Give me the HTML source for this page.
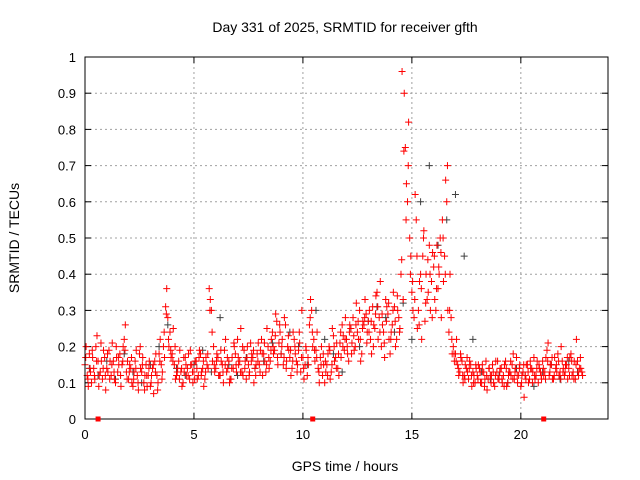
<!DOCTYPE html>
<html><head><meta charset="utf-8"><style>
html,body{margin:0;padding:0;background:#fff;}
svg{display:block;font-family:"Liberation Sans",sans-serif;}
</style></head><body>
<svg id="chart" width="640" height="480" viewBox="0 0 640 480">
<rect width="640" height="480" fill="#fff"/>
<text x="345" y="32" font-size="14" text-anchor="middle">Day 331 of 2025, SRMTID for receiver gfth</text>
<text x="345" y="471" font-size="14" text-anchor="middle">GPS time / hours</text>
<text x="0" y="0" font-size="14" text-anchor="middle" transform="translate(19,238) rotate(-90)">SRMTID / TECUs</text>
<g id="grid"></g>
<g id="ticks"></g>
<g id="gray"></g>
<g id="red"></g>
<rect x="85" y="57" width="523" height="362" fill="none" stroke="#000" stroke-width="1"/>
<g id="marks"></g>
</svg>
<script>
const xTicks=[0,5,10,15,20];
const yTicks=[0,0.1,0.2,0.3,0.4,0.5,0.6,0.7,0.8,0.9,1];
const yTickLabels=["0","0.1","0.2","0.3","0.4","0.5","0.6","0.7","0.8","0.9","1"];
const redA=[15,12,18,10,14,20,16,13,11,17,14,19,12,16,10,13,18,15,22,13,11,14,9,16,12,18,13,10,15,12,9,14,16,12,18,15,20,31,28,24,18,15,12,16,13,10,17,14,11,15,13,16,12,18,14,11,15,36,30,20,14,17,12,15,19,13,16,11,14,18,22,16,13,19,11,15,21,17,14,18,15,22,18,13,20,16,24,19,27,21,18,15,26,20,17,14,22,16,19,13,17,15,12,26,30,22,19,14,17,12,10,15,20,13,23,17,14,21,26,19,22,16,25,28,20,24,30,18,26,29,27,22,31,25,35,28,20,24,33,29,18,26,31,22,28,40,33,75,60,50,35,28,55,30,40,45,27,33,48,38,42,30,36,50,55,45,60,24,28,20,18,15,13,16,12,14,11,15,13,10,12,14,10,13,16,11,12,15,9,13,11,14,12,16,10,13,15,11,17,12,9,13,12,15,11,14,17,12,10,13,16,13,19,12,15,11,14,18,13,16,12,15,14,18,13,11,16,14,13];
const redB=[20,9,13,17,11,23,12,16,19,8,13,16,21,11,17,15,9,20,26,16,15,10,13,19,8,14,17,12,9,16,12,7,18,10,22,13,17,36,20,17,25,11,14,19,9,13,12,18,15,10,16,11,19,13,9,17,14,33,16,13,18,12,16,10,22,14,11,17,20,13,15,25,12,16,20,13,18,10,15,21,19,12,16,25,14,22,18,29,15,24,22,28,16,19,12,24,18,15,21,30,11,19,15,33,20,16,24,10,20,15,13,18,11,25,16,21,12,17,23,28,18,26,21,19,32,22,16,27,33,24,30,18,26,34,22,38,26,17,31,22,24,35,20,30,25,96,90,65,82,45,30,62,25,38,22,52,40,35,30,46,33,48,40,28,38,66,30,40,18,16,22,12,17,10,15,13,16,9,12,14,15,10,13,11,8,14,12,10,16,11,14,10,15,9,13,12,18,14,10,15,12,6,15,10,14,13,11,16,14,11,12,17,21,15,11,17,13,12,20,14,15,11,17,12,16,22,12,14];
const redC=[17,11,14,19,12,16,9,21,14,12,18,11,15,13,20,17,12,16,19,11,13,17,11,14,10,20,15,8,12,14,10,15,13,8,16,11,24,29,22,19,16,20,13,11,14,17,15,12,19,13,11,14,17,12,16,13,18,30,24,15,16,12,19,13,15,17,10,14,21,15,17,13,20,14,17,12,16,19,12,16,13,18,21,15,17,19,20,23,17,26,20,17,14,23,19,16,20,13,24,17,14,20,17,28,24,19,17,13,15,18,16,12,19,15,20,14,18,24,20,22,20,24,18,23,26,27,22,25,28,21,24,27,20,29,31,24,29,21,27,32,22,30,27,34,24,44,74,55,70,40,38,33,45,26,36,50,32,44,40,28,45,36,42,46,50,40,70,30,22,18,16,14,18,12,11,17,14,12,10,15,11,13,15,9,12,14,10,13,12,16,13,11,9,14,12,16,11,13,12,14,10,15,11,13,16,10,12,14,15,12,14,11,16,13,17,12,15,16,11,13,13,17,12,16,11,15,13,17,12];
const grayV=[14,12,16,11,18,13,10,15,20,26,14,12,15,19,13,28,15,12,17,14,16,21,18,24,20,15,30,22,18,13,25,20,27,31,28,24,32,22,60,70,48,55,62,45,22,13,11,12,10,14,12,9,13,15,11,16,13];
const gapHours=[0.6,10.45,21.05];
const X0=85,X1=608,Y0=419,Y1=57,XMAX=24;
const sx=t=>X0+(X1-X0)*t/XMAX, sy=v=>Y0-(Y0-Y1)*v;
const NS="http://www.w3.org/2000/svg";
const mk=(tag,attrs,parent)=>{const e=document.createElementNS(NS,tag);for(const k in attrs)e.setAttribute(k,attrs[k]);parent.appendChild(e);return e;};
const grid=document.getElementById('grid'),ticks=document.getElementById('ticks');
xTicks.forEach(t=>{const x=sx(t);
 if(t>0){const g=mk('line',{x1:x,x2:x,y1:Y0,y2:Y1,stroke:'#a0a0a0','stroke-dasharray':'2,3','stroke-width':1},grid);
 }
 mk('line',{x1:x,x2:x,y1:Y0,y2:Y0-6,stroke:'#000'},ticks);mk('line',{x1:x,x2:x,y1:Y1,y2:Y1+6,stroke:'#000'},ticks);
 const l=mk('text',{x:x,y:Y0+20,'font-size':13,'text-anchor':'middle'},ticks);l.textContent=t;
 });
yTicks.forEach((v,i)=>{const y=sy(v);
 if(v>0&&v<1){const g=mk('line',{x1:X0,x2:X1,y1:y,y2:y,stroke:'#a0a0a0','stroke-dasharray':'2,3','stroke-width':1},grid);
 }
 mk('line',{x1:X0,x2:X0+6,y1:y,y2:y,stroke:'#000'},ticks);mk('line',{x1:X1,x2:X1-6,y1:y,y2:y,stroke:'#000'},ticks);
 const l=mk('text',{x:X0-9,y:y+5,'font-size':13,'text-anchor':'end'},ticks);l.textContent=yTickLabels[i];
 });
function plus(g,t,v,col,name){const x=sx(t),y=sy(v);
 const p=mk('path',{d:`M${x-3.5},${y}h7M${x},${y-3.5}v7`,stroke:col,'stroke-width':1,fill:'none'},g);
 }
const gg=document.getElementById('gray'),rg=document.getElementById('red');
grayV.forEach((v,i)=>plus(gg,0.2+0.4*i,v/100,'#404040','gray-point'));
redA.forEach((v,i)=>plus(rg,0.1*i,v/100,'#ff0000','red-point'));
redB.forEach((v,i)=>plus(rg,0.05+0.1*i,v/100,'#ff0000','red-point'));
redC.forEach((v,i)=>plus(rg,0.033+0.1*i,v/100,'#ff0000','red-point'));
const mg=document.getElementById('marks');
gapHours.forEach(h=>{const r=mk('rect',{x:sx(h)-2.5,y:Y0-2.5,width:5,height:5,fill:'#ff0000'},mg);
 });
</script>
</body></html>
